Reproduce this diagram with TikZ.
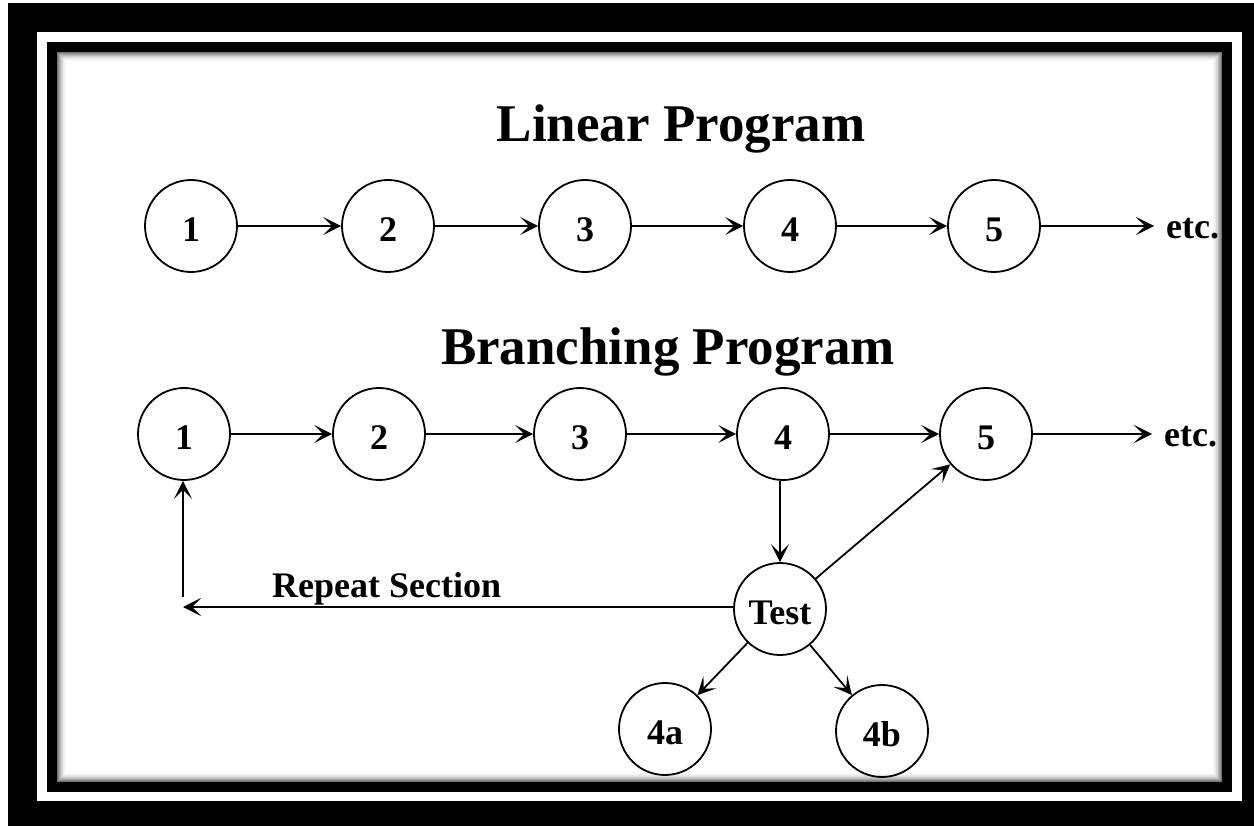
\documentclass[tikz,border=0pt]{standalone}
\usepackage{fontspec}
\setmainfont{Liberation Serif}
\usetikzlibrary{arrows.meta}
\tikzset{
  circ/.style={circle, draw, line width=1.8pt, minimum size=92pt, inner sep=0pt,
    font=\bfseries\fontsize{36}{40}\selectfont, text height=31pt, text depth=0pt},
  arr/.style={line width=1.8pt, -{Stealth[length=18pt,width=18pt,inset=9pt]}},
  lbl/.style={font=\bfseries\fontsize{36}{40}\selectfont, inner sep=0pt},
  ttl/.style={font=\bfseries\fontsize{53}{60}\selectfont, inner sep=0pt}
}
\begin{document}
\begin{tikzpicture}[x=1pt,y=-1pt]
\useasboundingbox (0,0) rectangle (1254,826);
% frame
\fill[white] (0,0) rectangle (1254,826);
\fill[black] (8,3) rectangle (1254,826);
\fill[white] (37,32) rectangle (1242,801);
\fill[black] (47,42) rectangle (1232,792);
\fill[white] (57,52) rectangle (1222,782);
\foreach \i in {0,...,9}{
  \pgfmathsetmacro{\g}{55*(1-\i/10)*(1-\i/10)}
  \draw[black!\g, line width=1.05pt] (57.5+\i,52.5+\i) rectangle (1221.5-\i,781.5-\i);
}
% titles
\node[ttl, anchor=base] (t1) at (681,142) {Linear Program};
\node[ttl, anchor=base] (t2) at (668,365) {Branching Program};
% linear row
\node[circ] (l1) at (191,226) {1};
\node[circ] (l2) at (388,226) {2};
\node[circ] (l3) at (585,226) {3};
\node[circ] (l4) at (790,226) {4};
\node[circ] (l5) at (994,226) {5};
\node[lbl, anchor=west] (le) at (1166,229) {etc.};
\draw[arr] (l1) -- (l2);
\draw[arr] (l2) -- (l3);
\draw[arr] (l3) -- (l4);
\draw[arr] (l4) -- (l5);
\draw[arr, shorten >=12pt] (l5) -- (le.west |- l5);
% branching row
\node[circ] (b1) at (184,434) {1};
\node[circ] (b2) at (379,434) {2};
\node[circ] (b3) at (580,434) {3};
\node[circ] (b4) at (783,434) {4};
\node[circ] (b5) at (986,434) {5};
\node[lbl, anchor=west] (be) at (1164,437) {etc.};
\draw[arr] (b1) -- (b2);
\draw[arr] (b2) -- (b3);
\draw[arr] (b3) -- (b4);
\draw[arr] (b4) -- (b5);
\draw[arr, shorten >=12pt] (b5) -- (be.west |- b5);
% test
\node[circ] (test) at (780,609) {Test};
\node[circ] (a4) at (665,729) {4a};
\node[circ] (c4) at (882,731) {4b};
\draw[arr] (b4.south -| test) -- (test);
\draw[arr] (test) -- (b5);
\draw[arr] (test) -- (a4);
\draw[arr] (test) -- (c4);
\coordinate (rh) at (183,607);
\coordinate (rv) at (183,597);
\draw[arr] (test.west |- rh) -- (rh);
\draw[arr] (rv) -- (b1.south -| rv);
\node[lbl, anchor=base west] (rep) at (272,597) {Repeat Section};
\end{tikzpicture}
\end{document}
